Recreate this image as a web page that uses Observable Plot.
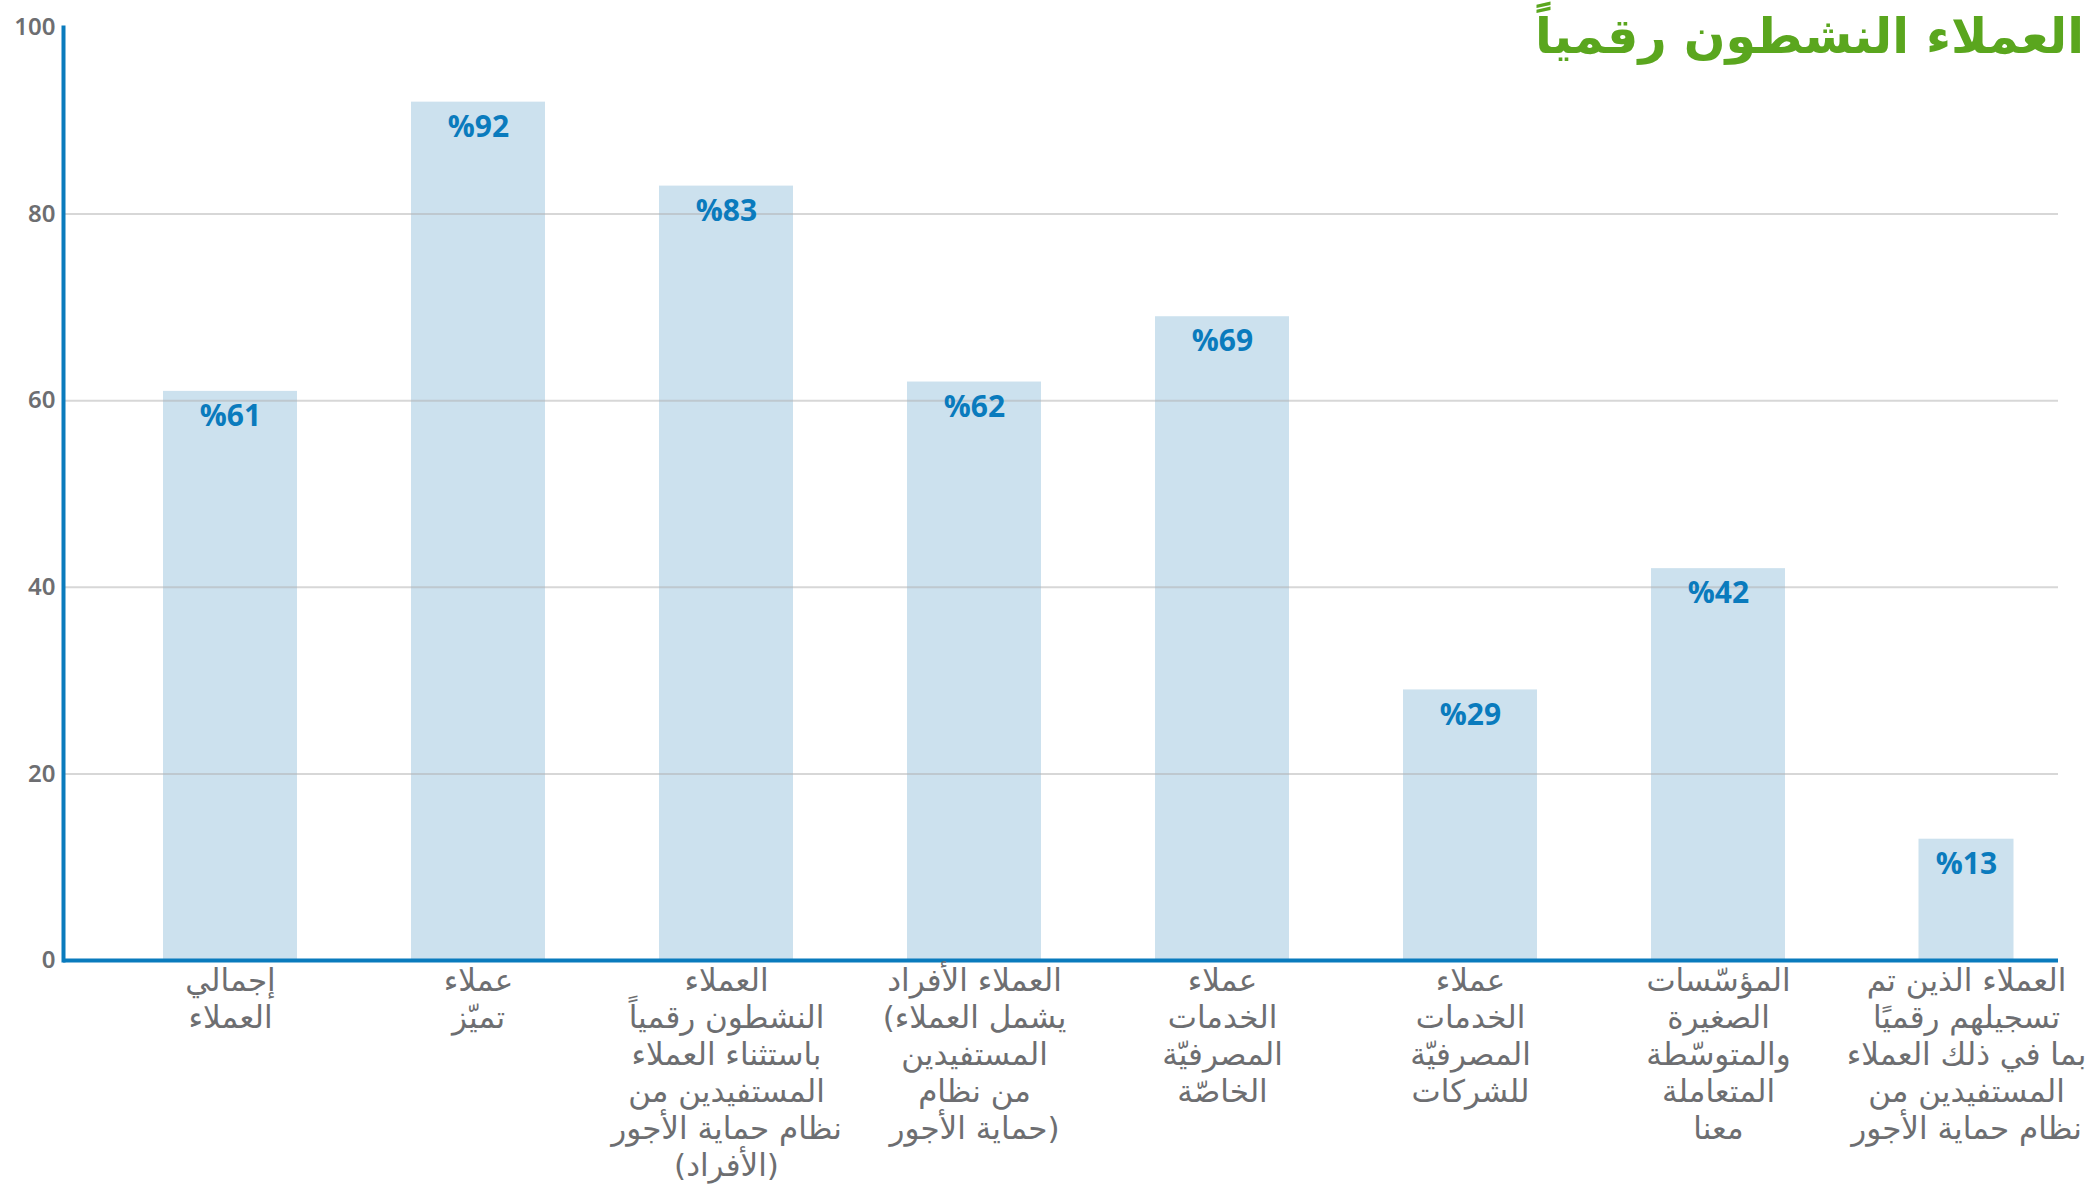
<!DOCTYPE html>
<html>
<head>
<meta charset="utf-8">
<script src="https://cdn.jsdelivr.net/npm/d3@7"></script>
<script src="https://cdn.jsdelivr.net/npm/@observablehq/plot@0.6"></script>
<style>
  body { margin: 0; background: #fff; }
  #wrap { position: relative; width: 2100px; height: 1186px; }
  #title {
    position: absolute; right: 16px; top: 3px;
    font-family: "DejaVu Sans", sans-serif; font-weight: bold;
    font-size: 49px; color: #5aa61e; line-height: 68px; white-space: nowrap;
  }
  svg text { direction: ltr; }
</style>
</head>
<body>
<div id="wrap">
  <div id="chart"></div>
  <div id="title"></div>
</div>
<script>
const title = "العملاء النشطون رقمياً";

const categories = [
  "إجمالي\nالعملاء",
  "عملاء\nتميّز",
  "العملاء\nالنشطون رقمياً\nباستثناء العملاء\nالمستفيدين من\nنظام حماية الأجور\n(الأفراد)",
  "العملاء الأفراد\n(يشمل العملاء\nالمستفيدين\nمن نظام\nحماية الأجور)",
  "عملاء\nالخدمات\nالمصرفيّة\nالخاصّة",
  "عملاء\nالخدمات\nالمصرفيّة\nللشركات",
  "المؤسّسات\nالصغيرة\nوالمتوسّطة\nالمتعاملة\nمعنا",
  "العملاء الذين تم\nتسجيلهم رقميًا\nبما في ذلك العملاء\nالمستفيدين من\nنظام حماية الأجور"
];
const values = [61, 92, 83, 62, 69, 29, 42, 13];
const narrowCategories = [categories[7]];
const yTicks = [0, 20, 40, 60, 80, 100];
const gridTicks = [20, 40, 60, 80];

document.getElementById("title").textContent = title;

const rows = categories.map((c, i) => ({category: c, value: values[i]}));
const wideRows = rows.filter(d => !narrowCategories.includes(d.category));
const narrowRows = rows.filter(d => narrowCategories.includes(d.category));

// left-to-right base direction for every label line (as in the reference)
const ltrLines = s => s.split("\n").map(l => "\u200E" + l).join("\n");

const blue = "#0a7bbd";
const barFill = "#cce1ee";
const grey = "#6d6e71";

const chart = Plot.plot({
  width: 2100,
  height: 1186,
  marginLeft: 63,
  marginRight: 42,
  marginTop: 27,
  marginBottom: 226,
  style: {fontFamily: "'DejaVu Sans', sans-serif", background: "#fff"},
  x: {domain: categories, axis: null, paddingInner: 0.46, paddingOuter: 0.2457, align: 0.8},
  y: {domain: [0, 100], axis: null},
  marks: [
    Plot.barY(wideRows, {x: "category", y: "value", fill: barFill}),
    Plot.barY(narrowRows, {x: "category", y: "value", fill: barFill, insetLeft: 19.5, insetRight: 19.5}),
    Plot.ruleY(gridTicks, {stroke: "#b0b0b0", strokeOpacity: 0.5, strokeWidth: 2}),
    Plot.ruleY([0], {stroke: blue, strokeWidth: 4}),
    Plot.frame({anchor: "left", stroke: blue, strokeWidth: 4}),
    Plot.axisY({ticks: yTicks, tickSize: 0, tickPadding: 8, fontSize: 24, fontWeight: 600,
      color: grey, fontFamily: "'Noto Sans', sans-serif", label: null}),
    Plot.text(rows, {x: "category", y: "value", text: d => "%" + d.value, dy: 25,
      lineAnchor: "middle", fill: blue, fontSize: 30, fontWeight: "bold",
      fontFamily: "'Open Sans', sans-serif"}),
    Plot.text(rows, {x: "category", y: () => 0, text: d => ltrLines(d.category), dy: 4,
      lineAnchor: "top", lineHeight: 1.194, fontSize: 31, fill: grey})
  ]
});
document.getElementById("chart").appendChild(chart);
</script>
</body>
</html>
